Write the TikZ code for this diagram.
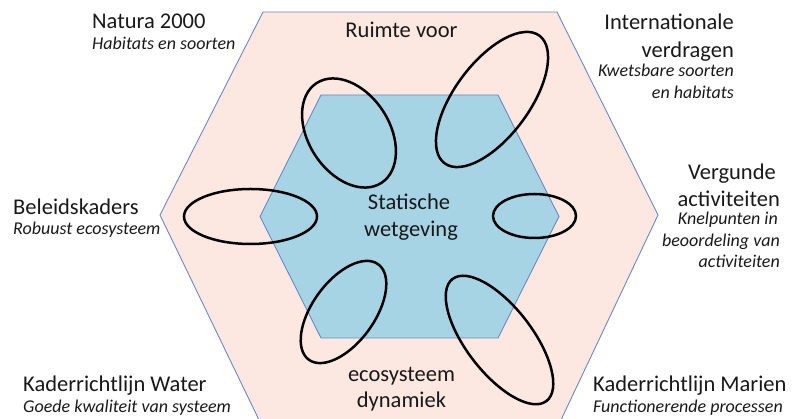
\documentclass[tikz,border=0pt]{standalone}
\usepackage{fontspec}
\setmainfont{Carlito}
\definecolor{outerfill}{HTML}{FCE8E0}
\definecolor{innerfill}{HTML}{A6D4E4}
\definecolor{hexline}{HTML}{6A8AC4}
\begin{document}
\begin{tikzpicture}[x=1pt,y=1pt,
  hexshape/.style={draw=hexline,line width=0.9pt,line join=miter},
  ring/.style={draw=black,line width=2.5pt},
  big/.style={inner sep=0pt,font=\fontsize{22.5}{26}\selectfont,text=black!90},
  small/.style={inner sep=0pt,font=\fontsize{18}{21}\selectfont\itshape,text=black!90}]
\useasboundingbox (0,0) rectangle (802,419);
% outer hexagon
\path[hexshape,fill=outerfill] (263,407) -- (557,407) -- (658,204) -- (560,-3) -- (260,-3) -- (160,204) -- cycle;
% inner hexagon
\path[hexshape,fill=innerfill] (321,324) -- (498,324) -- (559,202.5) -- (498,81) -- (321,81) -- (260,202.5) -- cycle;
% ellipses
\draw[ring] (349,286) ellipse [x radius=59.5, y radius=40.5, rotate=-57];
\draw[ring] (492,319.5) ellipse [x radius=79.5, y radius=37.3, rotate=53.4];
\draw[ring] (250.5,202.5) ellipse [x radius=66.5, y radius=27.5];
\draw[ring] (534.5,203) ellipse [x radius=41.5, y radius=22];
\draw[ring] (343.5,107) ellipse [x radius=59, y radius=31, rotate=54];
\draw[ring] (499.5,79) ellipse [x radius=77, y radius=33, rotate=-52.4];
% texts
\node[big,anchor=base west] (nat1) at (92,390) {Natura 2000};
\node[small,anchor=base west] (nat2) at (92,369) {Habitats en soorten};
\node[big,anchor=base] (ruim) at (401.5,381) {Ruimte voor};
\node[big,anchor=base east] (int1) at (734,389) {Internationale};
\node[big,anchor=base east] (int2) at (734,361) {verdragen};
\node[small,anchor=base east] (int3) at (734,342) {Kwetsbare soorten};
\node[small,anchor=base east] (int4) at (734,320) {en habitats};
\node[big,anchor=base east] (ver1) at (776,239) {Vergunde};
\node[big,anchor=base east] (ver2) at (780,212) {activiteiten};
\node[small,anchor=base east] (ver3) at (778,194) {Knelpunten in};
\node[small,anchor=base east] (ver4) at (780,172) {beoordeling van};
\node[small,anchor=base east] (ver5) at (780,151) {activiteiten};
\node[big,anchor=base west] (bel1) at (13,204) {Beleidskaders};
\node[small,anchor=base west] (bel2) at (13,184) {Robuust ecosysteem};
\node[big,anchor=base] (sta1) at (409,209) {Statische};
\node[big,anchor=base] (sta2) at (411,182) {wetgeving};
\node[big,anchor=base west] (krw1) at (23,27) {Kaderrichtlijn Water};
\node[small,anchor=base west] (krw2) at (23,6) {Goede kwaliteit van systeem};
\node[big,anchor=base] (eco1) at (401.5,37) {ecosysteem};
\node[big,anchor=base] (eco2) at (401.5,11) {dynamiek};
\node[big,anchor=base west] (krm1) at (593,27) {Kaderrichtlijn Marien};
\node[small,anchor=base west] (krm2) at (593,6) {Functionerende processen};
\end{tikzpicture}
\end{document}
